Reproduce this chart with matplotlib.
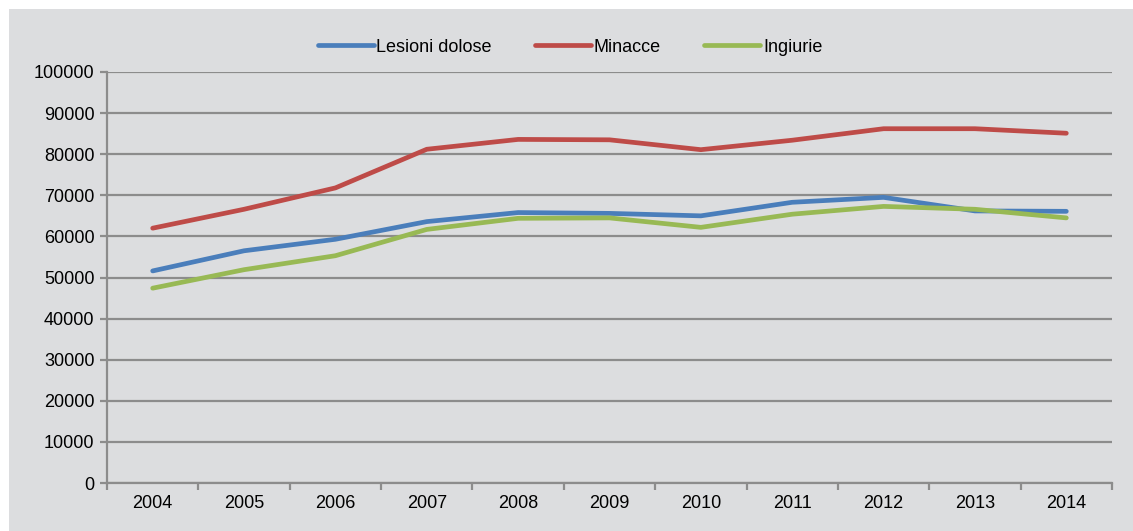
import matplotlib
matplotlib.use("Agg")
import matplotlib.pyplot as plt
from matplotlib.patches import Rectangle
from matplotlib import ticker

plt.rcParams['font.family'] = ['Liberation Sans', 'DejaVu Sans']

anni = ['2004', '2005', '2006', '2007', '2008', '2009', '2010', '2011', '2012', '2013', '2014']
lesioni_dolose = [51600, 56500, 59300, 63600, 65800, 65600, 65000, 68300, 69500, 66200, 66100]
minacce = [62000, 66600, 71800, 81200, 83600, 83500, 81100, 83400, 86200, 86200, 85100]
ingiurie = [47400, 51900, 55300, 61700, 64400, 64500, 62200, 65400, 67300, 66600, 64500]

sfondo = '#dcdddf'
griglia = '#8c8c8c'

fig = plt.figure(figsize=(11.33, 5.31), dpi=100, facecolor='white')
fig.patches.append(Rectangle((9 / 1133, 0), 1 - 9 / 1133, 1 - 9 / 531,
                             transform=fig.transFigure, facecolor=sfondo,
                             edgecolor='none', zorder=-10))

ax = fig.add_axes([107 / 1133, 48 / 531, (1112 - 107) / 1133, (483 - 72) / 531])
ax.set_facecolor(sfondo)

x = list(range(len(anni)))
ax.plot(x, lesioni_dolose, color='#4a7ebb', lw=3.4, solid_capstyle='round', label='Lesioni dolose')
ax.plot(x, minacce, color='#be4b48', lw=3.4, solid_capstyle='round', label='Minacce')
ax.plot(x, ingiurie, color='#98b954', lw=3.4, solid_capstyle='round', label='Ingiurie')

ax.set_xlim(-0.5, len(anni) - 0.5)
ax.set_ylim(0, 100000)
ax.yaxis.set_major_locator(ticker.MultipleLocator(10000))
ax.grid(axis='y', color=griglia, lw=1.6)
ax.set_axisbelow(True)

ax.set_xticks(x)
ax.set_xticklabels(anni)
ax.set_xticks([i - 0.5 for i in range(len(anni) + 1)], minor=True)
ax.tick_params(axis='x', which='major', length=0, pad=9, labelsize=13)
ax.tick_params(axis='x', which='minor', length=5, width=1.6, color=griglia)
ax.tick_params(axis='y', length=5, width=1.6, color=griglia, pad=4, labelsize=13)

for lato in ['top', 'right']:
    ax.spines[lato].set_visible(False)
for lato in ['left', 'bottom']:
    ax.spines[lato].set_color(griglia)
    ax.spines[lato].set_linewidth(1.6)

ax.legend(loc='center', bbox_to_anchor=(570 / 1133, 1 - 47 / 531),
          bbox_transform=fig.transFigure, ncol=3, frameon=False, fontsize=13,
          handlelength=3.1, handletextpad=0.15, columnspacing=2.4)

fig.savefig('out.png', dpi=100, facecolor='white')
